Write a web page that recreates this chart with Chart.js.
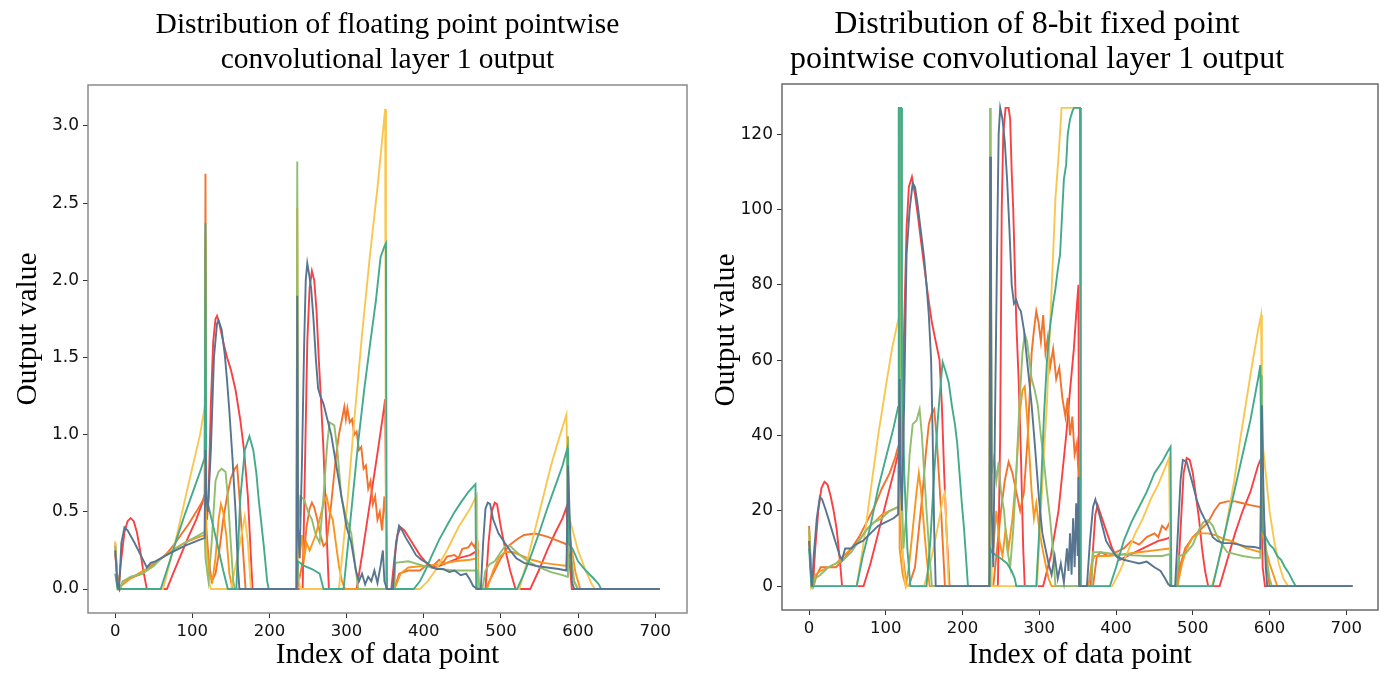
<!DOCTYPE html>
<html>
<head>
<meta charset="utf-8">
<script src="https://cdn.jsdelivr.net/npm/chart.js@4.4.0/dist/chart.umd.min.js"></script>
<style>
  html, body { margin: 0; padding: 0; background: #fff; }
  .wrap { position: absolute; top: 0; height: 673px; }
  #w1 { left: 0; width: 696px; }
  #w2 { left: 696px; width: 697px; }
</style>
</head>
<body>
<div class="wrap" id="w1"><canvas id="floatChart"></canvas></div>
<div class="wrap" id="w2"><canvas id="fixedChart"></canvas></div>
<script>
// tick labels
const xTicks = [0, 100, 200, 300, 400, 500, 600, 700];
const floatTicks = [0, 0.5, 1.0, 1.5, 2.0, 2.5, 3.0];
const fixedTicks = [0, 20, 40, 60, 80, 100, 120];

// floating point output, [index, value]
const fpRed = [[0,0.23],[4,0],[8,0.2],[12,0.37],[16,0.44],[20,0.46],[24,0.44],[28,0.37],[32,0.26],[36,0.13],[41,0],[67,0],[75,0.1],[85,0.22],[95,0.34],[105,0.45],[113,0.56],[117,0.63],[119,0.45],[121,0.6],[124,1.2],[127,1.6],[130,1.75],[132,1.77],[135,1.72],[140,1.6],[145,1.5],[150,1.42],[156,1.29],[162,1.1],[167,0.9],[172,0.6],[175,0.3],[178,0],[243,0],[246,0.8],[249,1.6],[252,1.95],[255,2.06],[258,2.0],[261,1.8],[264,1.48],[267,1.2],[270,0.9],[273,0.5],[277,0],[313,0],[320,0.22],[330,0.55],[340,0.88],[347,1.12],[350,1.23],[351,1.23],[352,0],[358,0],[362,0.2],[366,0.35],[370,0.4],[375,0.38],[385,0.3],[395,0.22],[405,0.16],[415,0.14],[430,0.17],[445,0.2],[460,0.22],[470,0.25],[471,0],[480,0],[484,0.3],[488,0.5],[492,0.56],[495,0.55],[500,0.4],[506,0.25],[512,0.12],[519,0],[538,0],[550,0.13],[560,0.25],[570,0.36],[580,0.46],[585,0.53],[587,0.3],[592,0],[706,0]];
const fpOrange = [[0,0.3],[3,0.05],[6,0],[10,0.05],[15,0.06],[25,0.08],[35,0.1],[45,0.14],[55,0.18],[65,0.22],[75,0.28],[85,0.35],[95,0.42],[105,0.5],[112,0.56],[116,0.6],[117,2.69],[118,0.4],[121,0.2],[125,0.05],[130,0.1],[135,0.25],[140,0.45],[145,0.6],[150,0.72],[155,0.78],[158,0.8],[161,0.6],[165,0.3],[169,0],[236,0],[240,0.1],[244,0.2],[248,0.4],[252,0.52],[255,0.56],[258,0.53],[262,0.45],[266,0.35],[270,0.28],[274,0.3],[280,0.55],[286,0.85],[290,1.0],[294,1.1],[297,1.18],[299,1.1],[301,1.17],[304,1.08],[307,1.1],[310,1.0],[313,1.02],[316,0.9],[319,0.92],[322,0.78],[325,0.8],[328,0.65],[331,0.7],[334,0.55],[337,0.6],[340,0.45],[343,0.5],[346,0.38],[349,0.6],[351,0.45],[352,0],[362,0],[368,0.1],[380,0.12],[395,0.12],[405,0.16],[410,0.14],[420,0.19],[425,0.17],[430,0.21],[440,0.22],[445,0.2],[450,0.26],[458,0.27],[462,0.3],[466,0.27],[469,0.33],[470,0.3],[471,0],[480,0],[490,0.1],[500,0.2],[510,0.28],[520,0.32],[530,0.35],[545,0.36],[560,0.34],[575,0.31],[585,0.29],[588,0.2],[595,0.05],[600,0],[706,0]];
const fpAmber = [[0,0.25],[4,0],[10,0.03],[20,0.07],[30,0.1],[40,0.13],[50,0.17],[60,0.2],[70,0.24],[80,0.27],[90,0.3],[100,0.32],[110,0.34],[116,0.35],[117,2.28],[118,0.3],[122,0.1],[126,0.05],[130,0.2],[134,0.45],[137,0.55],[140,0.5],[144,0.35],[148,0.1],[152,0],[235,0],[236,2.47],[237,0.3],[239,0.2],[242,0.35],[245,0.2],[248,0.3],[252,0.25],[256,0.3],[260,0.35],[265,0.45],[270,0.55],[274,0.6],[278,0.5],[282,0.45],[286,0.3],[290,0.15],[294,0.05],[298,0],[362,0],[370,0.1],[380,0.14],[400,0.15],[420,0.16],[440,0.18],[460,0.19],[470,0.2],[471,0],[482,0],[490,0.12],[497,0.2],[505,0.24],[515,0.24],[525,0.22],[540,0.19],[555,0.17],[570,0.16],[585,0.15],[588,0.4],[592,0.25],[597,0.1],[603,0],[706,0]];
const fpYellow = [[0,0.31],[3,0],[62,0],[80,0.35],[95,0.68],[110,1.0],[116,1.18],[117,0.3],[120,0.08],[124,0],[150,0],[160,0.25],[168,0.47],[172,0.3],[176,0],[235,0],[236,1.71],[237,0.1],[240,0],[290,0],[300,0.5],[310,1.1],[320,1.65],[330,2.15],[340,2.6],[350,3.11],[351,0],[395,0],[405,0.05],[415,0.12],[430,0.25],[445,0.4],[460,0.52],[469,0.61],[470,0],[524,0],[535,0.2],[545,0.4],[555,0.6],[565,0.8],[575,0.97],[585,1.13],[587,0.5],[592,0.4],[600,0.25],[610,0.12],[618,0.03],[622,0],[706,0]];
const fpGreen = [[0,0.28],[3,0.05],[6,0],[10,0.05],[20,0.08],[35,0.1],[50,0.15],[60,0.2],[75,0.25],[90,0.3],[105,0.34],[116,0.37],[117,0.2],[121,0.05],[125,0.3],[130,0.7],[134,0.76],[138,0.78],[143,0.76],[146,0.6],[149,0.36],[153,0.05],[155,0],[235,0],[236,2.77],[237,0.4],[240,0.6],[245,0.58],[250,0.5],[255,0.45],[260,0.35],[265,0.3],[270,0.6],[275,0.95],[278,1.08],[284,1.06],[288,0.9],[293,0.6],[300,0.45],[306,0.36],[310,0.2],[315,0],[362,0],[363,0.17],[380,0.18],[400,0.15],[420,0.13],[440,0.12],[460,0.12],[470,0.12],[471,0],[476,0],[480,0.12],[485,0.16],[492,0.18],[500,0.24],[506,0.28],[512,0.28],[518,0.25],[525,0.22],[535,0.18],[550,0.14],[565,0.11],[580,0.09],[586,0.08],[587,0.99],[589,0.3],[595,0.05],[600,0],[706,0]];
const fpTeal = [[0,0.1],[3,0],[59,0],[70,0.17],[80,0.33],[90,0.48],[100,0.62],[110,0.76],[116,0.85],[117,2.37],[118,0.6],[125,0.45],[132,0.3],[140,0.12],[146,0],[157,0],[162,0.58],[168,0.9],[174,0.99],[179,0.9],[183,0.75],[186,0.58],[190,0.4],[193,0.26],[197,0.05],[199,0],[236,0],[237,0.18],[245,0.15],[255,0.13],[265,0.1],[270,0],[296,0],[305,0.45],[315,0.95],[323,1.3],[331,1.61],[338,1.87],[344,2.15],[349,2.22],[351,2.24],[352,0],[387,0],[395,0.05],[402,0.12],[409,0.2],[420,0.32],[431,0.42],[440,0.5],[448,0.56],[458,0.63],[467,0.68],[468,0],[521,0],[530,0.1],[540,0.23],[550,0.37],[560,0.52],[570,0.66],[580,0.8],[586,0.91],[587,0.3],[593,0.26],[600,0.18],[610,0.12],[620,0.07],[627,0.03],[630,0],[706,0]];
const fpSlate = [[0,0.25],[3,0.02],[5,0],[8,0.3],[12,0.4],[16,0.38],[25,0.3],[35,0.2],[41,0.14],[46,0.17],[52,0.18],[70,0.23],[90,0.28],[110,0.32],[116,0.33],[117,0.9],[118,0.6],[120,0.5],[124,0.9],[128,1.5],[132,1.72],[134,1.74],[138,1.68],[142,1.52],[145,1.35],[148,1.15],[152,0.85],[156,0.5],[159,0.15],[161,0],[235,0],[236,1.9],[237,0.4],[239,0.2],[242,0.8],[245,1.6],[247,2.0],[249,2.11],[251,2.05],[254,1.95],[257,1.75],[260,1.5],[263,1.3],[266,1.25],[270,1.2],[275,1.1],[280,1.0],[285,0.85],[290,0.7],[295,0.55],[300,0.4],[306,0.3],[312,0.12],[316,0.05],[320,0.1],[324,0.03],[328,0.08],[332,0.05],[336,0.12],[340,0.04],[344,0.15],[347,0.25],[349,0.05],[351,0.02],[352,0],[360,0],[364,0.3],[368,0.41],[372,0.38],[377,0.33],[383,0.28],[390,0.22],[397,0.19],[404,0.17],[411,0.14],[417,0.13],[425,0.13],[433,0.11],[440,0.12],[448,0.09],[455,0.1],[460,0.06],[464,0.02],[470,0],[474,0],[477,0.3],[480,0.52],[483,0.56],[486,0.55],[490,0.45],[497,0.36],[505,0.3],[512,0.25],[520,0.2],[530,0.17],[545,0.15],[560,0.14],[575,0.13],[585,0.12],[587,0.8],[589,0.5],[592,0.05],[595,0],[706,0]];

// 8-bit fixed point output, [index, value]
const fxRed = [[0,12],[3,3],[5,0],[8,10],[12,20],[16,26],[20,27.7],[24,27],[28,24],[32,20],[36,15],[40,7],[43,0],[71,0],[80,6],[90,14],[100,22],[110,30],[117,36],[119,25],[121,40],[124,70],[127,95],[130,106],[134,108.7],[138,104],[142,98],[145,93],[150,85],[155,77],[160,70],[165,65],[170,60],[173,48],[176,30],[179,15],[183,0],[246,0],[249,40],[251,100],[253,120],[256,127],[260,127],[262,124],[264,110],[266,100],[268,85],[270,70],[273,55],[276,35],[279,10],[281,0],[305,0],[315,8],[325,20],[335,40],[340,52],[345,63],[348,72],[351,80],[352,0],[367,0],[370,10],[373,19],[376,21.5],[380,19],[385,16],[390,13],[395,10],[400,8],[405,7],[415,8],[425,9],[435,10],[445,11],[455,12],[465,12.5],[470,13],[471,0],[480,0],[484,15],[488,30],[492,34],[496,33.5],[500,30],[504,24],[508,18],[512,10],[516,4],[520,0],[535,0],[545,7],[555,14],[565,20],[575,25],[585,32],[589,34],[591,5],[594,0],[708,0]];
const fxOrange = [[0,16],[3,2],[6,0],[10,3],[15,5],[25,5],[35,5],[45,7],[55,10],[65,13],[75,17],[85,21],[95,26],[105,30],[112,34],[116,37],[117,127],[118,20],[121,10],[124,5],[127,0],[130,0],[138,5],[143,15],[148,25],[152,35],[156,43],[160,46],[163,47],[166,40],[169,30],[172,20],[175,8],[177,0],[236,0],[240,0],[245,10],[250,20],[255,28],[260,33],[265,30],[270,25],[275,20],[280,25],[285,40],[290,62],[293,68],[296,73],[299,70],[302,65],[305,72],[308,62],[311,66],[314,58],[318,63],[322,55],[326,58],[330,50],[334,45],[337,50],[340,40],[343,45],[346,35],[349,38],[351,30],[352,0],[370,0],[375,8],[380,9],[390,8],[400,9],[410,10],[420,12],[430,11],[440,13],[450,14],[455,13],[460,16],[465,15],[470,17],[471,0],[478,0],[483,5],[490,10],[500,13],[510,15],[520,17],[528,20],[535,22],[545,22.5],[555,22.5],[565,22],[575,21.5],[588,21],[590,20],[594,10],[598,3],[600,0],[708,0]];
const fxAmber = [[0,15],[3,0],[8,3],[15,4],[25,5],[35,6],[45,8],[55,10],[65,12],[75,15],[85,17],[95,19],[105,20],[116,21],[117,127],[118,10],[122,3],[126,0],[130,5],[135,15],[140,25],[143,30],[146,25],[150,15],[153,8],[157,0],[235,0],[236,127],[237,20],[240,10],[244,20],[248,12],[252,8],[256,15],[260,10],[265,18],[270,30],[274,45],[278,52],[281,53],[284,45],[287,35],[290,25],[293,18],[296,22],[300,15],[304,10],[308,6],[312,2],[316,0],[364,0],[368,6],[372,8],[390,8],[410,8.5],[430,9],[450,9.5],[470,10],[471,0],[480,0],[486,6],[492,10],[500,13],[508,14],[520,14],[530,13.5],[540,12.5],[550,12],[560,11],[570,10],[580,9.5],[588,9],[590,15],[595,10],[600,6],[605,3],[610,0],[708,0]];
const fxYellow = [[0,14],[3,0],[62,0],[70,10],[80,25],[90,40],[100,53],[108,63],[116,70.6],[117,127],[119,127],[120,20],[123,5],[126,0],[150,0],[160,8],[168,16],[175,24],[177,25],[180,10],[182,0],[235,0],[236,127],[237,104],[238,0],[297,0],[302,20],[306,35],[310,49],[314,69],[321,103],[325,114],[329,127],[353,127],[354,0],[395,0],[405,4],[415,9],[425,14],[435,18],[445,23],[455,27],[465,32],[469,34],[471,0],[525,0],[533,6],[540,12],[547,20],[554,28],[561,38],[568,47],[575,56],[580,62],[585,68],[589,72],[590,40],[595,30],[600,20],[606,12],[612,6],[618,2],[624,0],[708,0]];
const fxGreen = [[0,15],[3,3],[5,0],[8,2],[15,3],[25,5],[35,6],[45,7],[55,9],[65,12],[75,15],[85,17],[95,18],[105,20],[116,21],[117,127],[119,127],[120,30],[123,10],[127,20],[131,35],[135,43],[140,44],[144,47],[147,40],[150,30],[153,20],[157,8],[160,0],[235,0],[236,127],[238,30],[241,34],[244,28],[247,33],[250,25],[254,20],[258,10],[262,5],[266,15],[270,30],[274,48],[278,62],[281,67],[284,65],[287,60],[290,55],[294,52],[298,48],[302,40],[306,33],[310,25],[314,18],[318,9],[321,0],[368,0],[370,9],[380,9],[400,8.5],[420,8.2],[440,8],[460,8],[470,8.5],[471,0],[478,0],[482,8],[490,8.5],[500,11],[508,15],[514,17],[520,17.5],[526,16],[532,13],[538,11],[545,9],[555,8.5],[565,8],[580,7.5],[588,7.5],[590,56],[592,20],[596,8],[600,2],[603,0],[708,0]];
const fxTeal = [[0,10],[3,0],[62,0],[70,8],[80,16],[90,26],[100,34],[110,42],[116,47.6],[117,127],[120,127],[121,60],[124,30],[128,10],[132,0],[153,0],[158,12],[163,30],[168,45],[172,55],[174,59.5],[178,57],[182,54],[186,48],[190,43],[193,38],[196,30],[199,22],[202,15],[205,6],[207,0],[235,0],[236,10],[238,9],[245,8],[252,7],[258,6],[264,4],[268,2],[270,0],[296,0],[300,15],[303,30],[306,45],[310,60],[314,69],[318,75],[321,79],[324,84],[327,88],[330,100],[332,108],[335,112],[337,120],[340,124],[343,126],[345,127],[353,127],[354,0],[392,0],[400,5],[410,12],[420,17],[430,21],[440,25],[450,30],[460,33],[468,36],[471,37],[472,0],[526,0],[535,8],[545,17],[555,26],[565,35],[575,44],[585,55],[588,58.7],[590,15],[595,13],[600,11],[605,10],[610,8],[615,7],[620,5],[625,3.5],[630,1.5],[634,0],[708,0]];
const fxSlate = [[0,12],[2,5],[4,0],[6,8],[10,18],[14,23.7],[17,23],[22,20],[28,16],[34,12],[40,8],[43,7],[47,10],[55,10],[60,11],[70,12],[80,14],[90,16],[100,17],[110,18],[116,19],[118,55],[119,30],[121,20],[124,50],[127,88],[131,100],[135,107],[138,106],[141,102],[144,97],[147,92],[150,87],[153,80],[156,72],[159,60],[161,40],[163,15],[165,0],[235,0],[236,114],[237,90],[238,20],[240,5],[242,40],[245,90],[247,120],[249,127],[252,124],[255,118],[258,108],[261,95],[264,80],[267,75],[270,76],[273,74],[276,73],[280,68],[284,60],[287,54],[290,48],[294,38],[297,30],[300,22],[304,14],[308,10],[312,6],[316,3],[320,8],[324,2],[328,6],[332,1],[336,10],[338,4],[340,14],[342,3],[344,18],[346,5],[348,22],[350,8],[351,29],[352,0],[362,0],[366,12],[370,21],[373,23],[377,20],[382,16],[387,12],[393,10],[400,8],[410,7],[420,6.5],[430,6],[440,6.5],[450,5],[458,4],[464,2],[468,0.5],[472,0],[477,0],[480,12],[484,28],[487,33.5],[492,33],[496,30],[500,27],[505,23],[510,20],[515,18],[520,16],[526,13],[532,12],[540,11.4],[550,11.4],[560,11],[570,10.5],[580,10.4],[588,10],[590,48],[592,25],[595,5],[597,0],[708,0]];

const serif = "'Liberation Serif', 'Times New Roman', serif";
const sans = "'DejaVu Sans', sans-serif";

// draws the top and right spines too, like matplotlib
const framePlugin = {
    id: 'frame',
    afterDraw(chart, args, opts) {
        const { ctx, chartArea: a } = chart;
        ctx.save();
        ctx.strokeStyle = opts.color;
        ctx.lineWidth = 1.5;
        ctx.strokeRect(a.left, a.top, a.right - a.left, a.bottom - a.top);
        ctx.restore();
    }
};

// y axis title, sits a bit above the middle of the axis in the original
const yTitlePlugin = {
    id: 'ytitle',
    afterDraw(chart, args, o) {
        const { ctx, chartArea: a } = chart;
        ctx.save();
        ctx.translate(o.x, (a.top + a.bottom) / 2 + o.dy);
        ctx.rotate(-Math.PI / 2);
        ctx.font = o.size + 'px ' + serif;
        ctx.fillStyle = '#000';
        ctx.textAlign = 'center';
        ctx.textBaseline = 'middle';
        ctx.fillText(o.text, 0, 0);
        ctx.restore();
    }
};

function makeSets(list) {
    // first dataset is drawn on top
    return list.map(([color, pts]) => ({
        data: pts.map(p => ({ x: p[0], y: p[1] })),
        borderColor: color,
        borderWidth: 1.9,
        pointRadius: 0,
        tension: 0,
        fill: false
    }));
}

function makeChart(id, sets, cfg) {
    return new Chart(document.getElementById(id), {
        type: 'line',
        data: { datasets: sets },
        options: {
            responsive: true,
            maintainAspectRatio: false,
            animation: false,
            layout: { padding: { left: 0, right: cfg.padRight, top: 0, bottom: 0 } },
            plugins: {
                legend: { display: false },
                tooltip: { enabled: false },
                title: {
                    display: true,
                    text: cfg.title,
                    fullSize: cfg.titleFull,
                    color: '#000',
                    font: { family: serif, size: cfg.titleSize, weight: 'normal', lineHeight: '35px' },
                    padding: { top: 7.5, bottom: cfg.titleBottom }
                },
                frame: { color: cfg.frame },
                ytitle: { text: 'Output value', x: cfg.yTitleX, dy: cfg.yTitleDy, size: 29.5 }
            },
            scales: {
                x: {
                    type: 'linear',
                    min: -35.3,
                    max: 741.3,
                    afterBuildTicks: s => { s.ticks = xTicks.map(v => ({ value: v })); },
                    afterFit: s => { s.height = cfg.xHeight; },
                    ticks: { color: '#111', font: { family: sans, size: 16.5 }, padding: 4, maxRotation: 0, autoSkip: false },
                    grid: { display: true, drawOnChartArea: false, drawTicks: true, tickLength: 5, color: '#333' },
                    border: { display: false },
                    title: {
                        display: true,
                        text: 'Index of data point',
                        color: '#000',
                        font: { family: serif, size: 29.5, weight: 'normal', lineHeight: 1.2 },
                        padding: { top: 0, bottom: 0 }
                    }
                },
                y: {
                    min: cfg.yMin,
                    max: cfg.yMax,
                    afterBuildTicks: s => { s.ticks = cfg.yTicks.map(v => ({ value: v })); },
                    afterFit: s => { s.width = cfg.yWidth; },
                    ticks: { color: '#111', font: { family: sans, size: 17 }, padding: 4, autoSkip: false, callback: cfg.fmt },
                    grid: { display: true, drawOnChartArea: false, drawTicks: true, tickLength: 5, color: '#333' },
                    border: { display: false },
                    title: { display: false }
                }
            }
        },
        plugins: [framePlugin, yTitlePlugin]
    });
}

const c = { red: '#f94144', orange: '#f3722c', amber: '#f8961e', yellow: '#f9c74f', green: '#90be6d', teal: '#43aa8b', slate: '#577590' };

makeChart('floatChart', makeSets([
    [c.slate, fpSlate], [c.teal, fpTeal], [c.green, fpGreen], [c.yellow, fpYellow],
    [c.amber, fpAmber], [c.orange, fpOrange], [c.red, fpRed]
]), {
    title: ['Distribution of floating point pointwise', 'convolutional layer 1 output'],
    titleFull: false, titleSize: 29.5, titleBottom: 7.5, padRight: 9, xHeight: 60, yWidth: 88,
    yMin: -0.155, yMax: 3.265, yTicks: floatTicks, fmt: v => v.toFixed(1),
    yTitleX: 28, yTitleDy: -20, frame: '#8a8a8a'
});

makeChart('fixedChart', makeSets([
    [c.slate, fxSlate], [c.teal, fxTeal], [c.green, fxGreen], [c.yellow, fxYellow],
    [c.amber, fxAmber], [c.orange, fxOrange], [c.red, fxRed]
]), {
    title: ['Distribution of 8-bit fixed point', 'pointwise convolutional layer 1 output'],
    titleFull: true, titleSize: 32, titleBottom: 6.5, padRight: 15, xHeight: 63, yWidth: 86,
    yMin: -6.35, yMax: 133.35, yTicks: fixedTicks, fmt: v => String(v),
    yTitleX: 30, yTitleDy: -17, frame: '#6a6a6a'
});
</script>
</body>
</html>
